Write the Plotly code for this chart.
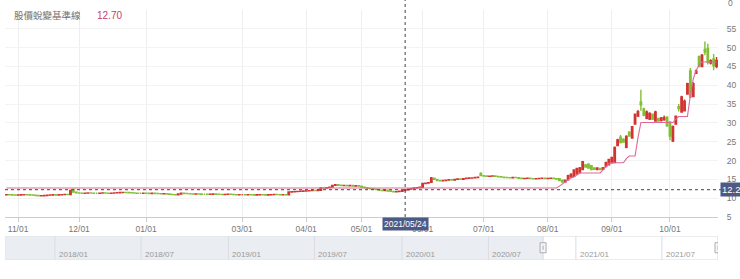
import pandas as pd
import plotly.graph_objects as go

# ---------------- data ----------------
holidays = ["2021-01-01", "2021-02-08", "2021-02-09", "2021-02-10", "2021-02-11", "2021-02-12",
            "2021-02-15", "2021-02-16", "2021-03-01", "2021-04-02", "2021-04-05", "2021-04-30",
            "2021-06-14", "2021-09-20", "2021-09-21", "2021-10-11"]
dates = [d.strftime("%Y-%m-%d") for d in pd.bdate_range("2020-10-27", "2021-10-26")
         if d.strftime("%Y-%m-%d") not in holidays]

opens = [
    # Oct 27 - Nov 30
    10.90, 10.95, 10.90, 10.85, 10.80, 10.85, 10.90, 10.95, 10.90, 10.85, 10.80, 10.70, 10.60, 10.65, 10.70, 10.80, 10.85, 10.90, 10.85, 10.90, 10.95, 11.00, 10.95, 12.30, 11.60,
    # Dec
    11.40, 11.35, 11.30, 11.35, 11.40, 11.35, 11.30, 11.30, 11.35, 11.40, 11.35, 11.30, 11.35, 11.40, 11.45, 11.50, 11.55, 11.50, 11.45, 11.40, 11.35, 11.30, 11.30,
    # Jan
    11.35, 11.30, 11.25, 11.30, 11.25, 11.20, 11.15, 11.20, 11.10, 11.00, 10.95, 10.90, 11.10, 11.30, 11.25, 11.20, 11.15, 11.10, 11.15, 11.10,
    # Feb
    11.05, 11.05, 11.00, 11.05, 11.10, 11.05, 11.00, 10.95, 11.00, 11.05, 11.00, 10.95, 10.90,
    # Mar
    10.95, 10.95, 10.90, 10.95, 10.90, 10.85, 10.90, 10.95, 10.90, 10.85, 10.90, 10.95, 11.00, 10.95, 10.90, 10.95, 10.90, 11.65, 11.70, 11.75, 11.80, 11.85,
    # Apr
    11.90, 11.95, 12.00, 12.05, 12.00, 12.10, 12.75, 12.70, 12.80, 12.95, 13.40, 13.60, 13.45, 13.35, 13.40, 13.30, 13.35, 13.25, 13.30,
    # May
    13.20, 12.95, 12.80, 12.60, 12.50, 12.40, 12.30, 12.15, 12.05, 12.10, 11.90, 11.80, 11.70, 11.75, 11.85, 12.00, 12.25, 12.40, 12.55, 12.70, 12.80,
    # Jun
    12.90, 13.90, 14.00, 14.20, 15.30, 15.00, 14.70, 14.60, 14.70, 14.80, 14.90, 14.85, 15.00, 15.10, 15.05, 15.20, 15.30, 15.35, 15.40, 15.50, 16.60,
    # Jul
    16.00, 15.90, 15.80, 15.85, 15.90, 15.80, 15.70, 15.60, 15.50, 15.45, 15.40, 15.50, 15.45, 15.30, 15.20, 15.25, 15.30, 15.20, 15.15, 15.20, 15.25, 15.30,
    # Aug
    15.20, 15.25, 15.30, 15.20, 15.20, 14.80, 14.30, 14.90, 15.60, 15.80, 16.40, 16.80, 17.60, 18.80, 19.00, 18.60, 18.00, 17.60, 17.90, 17.70, 18.40, 18.90,
    # Sep
    19.40, 19.50, 24.00, 26.20, 25.60, 23.50, 27.50, 26.00, 29.70, 31.80, 35.60, 33.70, 31.20, 31.00, 32.30, 30.50, 31.20, 30.60, 30.80, 31.50,
    # Oct
    30.20, 25.20, 29.70, 34.30, 32.90, 33.20, 37.70, 43.80, 37.00, 43.20, 47.60, 45.00, 49.50, 49.80, 45.90, 47.00, 45.00,
]
highs = [
    11.00, 11.00, 10.95, 10.90, 10.90, 10.95, 11.00, 11.00, 10.95, 10.90, 10.85, 10.75, 10.70, 10.75, 10.85, 10.90, 10.95, 10.95, 10.95, 11.00, 11.05, 11.05, 12.20, 12.40, 11.65,
    11.45, 11.40, 11.40, 11.45, 11.45, 11.40, 11.35, 11.40, 11.45, 11.45, 11.40, 11.40, 11.45, 11.50, 11.55, 11.60, 11.60, 11.55, 11.50, 11.45, 11.40, 11.35, 11.40,
    11.40, 11.35, 11.35, 11.35, 11.30, 11.25, 11.25, 11.25, 11.15, 11.05, 11.00, 11.15, 11.40, 11.35, 11.30, 11.25, 11.20, 11.20, 11.20, 11.15,
    11.10, 11.10, 11.10, 11.15, 11.15, 11.10, 11.05, 11.05, 11.10, 11.10, 11.05, 11.00, 11.00,
    11.00, 11.00, 11.00, 11.00, 10.95, 10.95, 11.00, 11.00, 10.95, 10.95, 11.00, 11.05, 11.05, 11.00, 11.00, 11.00, 11.75, 11.80, 11.85, 11.90, 11.95, 12.00,
    12.00, 12.05, 12.10, 12.10, 12.15, 12.85, 12.80, 12.85, 12.95, 13.50, 13.75, 13.65, 13.50, 13.45, 13.45, 13.40, 13.40, 13.35, 13.35,
    13.25, 13.00, 12.85, 12.65, 12.55, 12.45, 12.35, 12.20, 12.15, 12.15, 11.95, 11.85, 11.80, 11.90, 12.05, 12.30, 12.45, 12.60, 12.75, 12.85, 12.95,
    14.10, 14.10, 14.20, 15.60, 15.40, 15.05, 14.75, 14.80, 14.90, 14.95, 14.95, 15.05, 15.15, 15.15, 15.25, 15.35, 15.40, 15.45, 15.55, 15.70, 16.90,
    16.10, 15.95, 15.90, 15.95, 15.95, 15.85, 15.75, 15.65, 15.55, 15.50, 15.55, 15.55, 15.50, 15.35, 15.30, 15.35, 15.35, 15.25, 15.25, 15.30, 15.35, 15.35,
    15.30, 15.35, 15.35, 15.25, 15.25, 14.85, 14.90, 16.20, 16.60, 17.70, 18.10, 18.30, 19.90, 19.10, 19.30, 18.80, 18.20, 18.20, 18.00, 18.30, 19.70, 20.50,
    21.00, 23.70, 25.80, 26.80, 25.90, 26.70, 27.80, 29.20, 32.50, 33.40, 38.80, 34.00, 33.30, 32.80, 32.50, 33.20, 31.40, 31.60, 32.00, 31.80,
    30.50, 29.30, 32.00, 35.00, 37.20, 36.20, 40.70, 44.60, 40.80, 44.20, 47.90, 48.30, 51.60, 51.00, 46.90, 48.30, 47.50,
]
lows = [
    10.85, 10.85, 10.80, 10.75, 10.75, 10.80, 10.85, 10.85, 10.80, 10.75, 10.65, 10.55, 10.55, 10.60, 10.65, 10.75, 10.80, 10.80, 10.80, 10.85, 10.90, 10.90, 10.90, 11.50, 11.30,
    11.30, 11.25, 11.25, 11.30, 11.30, 11.25, 11.25, 11.25, 11.30, 11.30, 11.25, 11.25, 11.30, 11.35, 11.40, 11.45, 11.45, 11.40, 11.35, 11.30, 11.25, 11.25, 11.25,
    11.25, 11.20, 11.20, 11.20, 11.15, 11.10, 11.10, 11.05, 10.95, 10.90, 10.85, 10.85, 11.05, 11.20, 11.15, 11.10, 11.05, 11.05, 11.05, 11.00,
    11.00, 10.95, 10.95, 11.00, 11.00, 10.95, 10.90, 10.90, 10.95, 10.95, 10.90, 10.85, 10.85,
    10.90, 10.85, 10.85, 10.85, 10.80, 10.80, 10.85, 10.85, 10.80, 10.80, 10.85, 10.90, 10.90, 10.85, 10.85, 10.85, 10.85, 11.55, 11.60, 11.65, 11.70, 11.75,
    11.85, 11.90, 11.95, 11.95, 11.95, 12.05, 12.60, 12.65, 12.75, 12.90, 13.35, 13.40, 13.30, 13.30, 13.25, 13.25, 13.20, 13.20, 13.15,
    12.90, 12.75, 12.55, 12.45, 12.35, 12.25, 12.10, 12.00, 12.00, 11.85, 11.75, 11.60, 11.65, 11.70, 11.80, 11.95, 12.20, 12.35, 12.50, 12.65, 12.75,
    12.85, 13.80, 13.90, 14.10, 14.90, 14.60, 14.50, 14.55, 14.65, 14.75, 14.80, 14.80, 14.95, 15.00, 15.00, 15.15, 15.25, 15.30, 15.35, 15.45, 15.90,
    15.85, 15.75, 15.75, 15.80, 15.75, 15.65, 15.55, 15.45, 15.40, 15.35, 15.35, 15.40, 15.25, 15.15, 15.15, 15.20, 15.15, 15.10, 15.10, 15.15, 15.20, 15.15,
    15.15, 15.20, 15.15, 15.05, 14.60, 14.10, 14.20, 14.80, 15.50, 15.70, 16.30, 16.60, 17.40, 18.10, 17.80, 17.40, 17.50, 17.50, 17.40, 17.50, 18.30, 18.70,
    19.20, 19.30, 23.80, 24.50, 24.70, 23.30, 26.30, 25.80, 29.50, 31.60, 33.20, 31.80, 31.00, 30.80, 30.80, 30.30, 30.30, 30.40, 30.60, 29.00,
    25.40, 24.90, 29.50, 33.00, 32.70, 33.00, 37.50, 36.60, 36.80, 43.00, 44.80, 44.80, 48.00, 45.50, 45.50, 44.00, 44.50,
]
closes = [
    10.95, 10.90, 10.85, 10.80, 10.85, 10.90, 10.95, 10.90, 10.85, 10.80, 10.70, 10.60, 10.65, 10.70, 10.80, 10.85, 10.90, 10.85, 10.90, 10.95, 11.00, 10.95, 12.05, 11.60, 11.40,
    11.35, 11.30, 11.35, 11.40, 11.35, 11.30, 11.30, 11.35, 11.40, 11.35, 11.30, 11.35, 11.40, 11.45, 11.50, 11.55, 11.50, 11.45, 11.40, 11.35, 11.30, 11.30, 11.35,
    11.30, 11.25, 11.30, 11.25, 11.20, 11.15, 11.20, 11.10, 11.00, 10.95, 10.90, 11.10, 11.30, 11.25, 11.20, 11.15, 11.10, 11.15, 11.10, 11.05,
    11.05, 11.00, 11.05, 11.10, 11.05, 11.00, 10.95, 11.00, 11.05, 11.00, 10.95, 10.90, 10.95,
    10.95, 10.90, 10.95, 10.90, 10.85, 10.90, 10.95, 10.90, 10.85, 10.90, 10.95, 11.00, 10.95, 10.90, 10.95, 10.90, 11.65, 11.70, 11.75, 11.80, 11.85, 11.90,
    11.95, 12.00, 12.05, 12.00, 12.10, 12.75, 12.70, 12.80, 12.90, 13.40, 13.60, 13.45, 13.35, 13.40, 13.30, 13.35, 13.25, 13.30, 13.20,
    12.95, 12.80, 12.60, 12.50, 12.40, 12.30, 12.15, 12.05, 12.10, 11.90, 11.80, 11.70, 11.75, 11.85, 12.00, 12.25, 12.40, 12.55, 12.70, 12.80, 12.90,
    13.90, 14.00, 14.10, 15.40, 15.00, 14.70, 14.60, 14.70, 14.80, 14.90, 14.85, 15.00, 15.10, 15.05, 15.20, 15.30, 15.35, 15.40, 15.50, 15.60, 16.00,
    15.90, 15.80, 15.85, 15.90, 15.80, 15.70, 15.60, 15.50, 15.45, 15.40, 15.50, 15.45, 15.30, 15.20, 15.25, 15.30, 15.20, 15.15, 15.20, 15.25, 15.30, 15.20,
    15.25, 15.30, 15.20, 15.10, 14.70, 14.30, 14.80, 16.00, 16.40, 17.50, 17.90, 18.00, 19.70, 18.30, 18.00, 17.60, 17.70, 18.00, 17.60, 18.10, 19.50, 20.30,
    20.80, 23.50, 25.50, 24.80, 24.90, 26.40, 26.50, 29.00, 32.30, 33.00, 34.80, 32.00, 32.90, 32.50, 31.00, 32.90, 30.50, 31.30, 31.40, 29.20,
    26.50, 29.00, 31.80, 33.80, 36.90, 35.80, 40.40, 36.90, 40.40, 43.80, 45.00, 48.00, 48.80, 46.20, 46.50, 45.20, 46.60,
]
baseline = [12.70] * 190 + [
    13.2, 13.8, 14.2, 15.0, 15.4, 15.6, 16.2, 16.7,
    16.7, 16.7, 16.7, 16.7, 16.7, 16.7, 16.7,
    17.5, 18.5, 19.2,
    19.4, 19.4, 19.4, 19.4, 19.4,
    20.5, 21.2, 21.2, 21.2,
    26.0, 30.1,
    30.1, 30.1, 30.1, 30.1, 30.1, 30.1, 30.1, 30.1, 30.1, 30.1, 30.1,
    31.0, 31.7, 31.7, 31.7, 31.7,
    37.3, 41.7, 44.0, 45.3,
    46.2, 46.2, 46.2, 46.2, 46.2, 46.2,
]
assert len(dates) == len(opens) == len(highs) == len(lows) == len(closes) == len(baseline), (
    len(dates), len(opens), len(highs), len(lows), len(closes), len(baseline))

title_text = "股價蛻變基準線"
baseline_value = "12.70"
cross_date = "2021-05-24"
cross_date_label = "2021/05/24"
cross_price = 12.25

tick_dates = ["2020-11-02", "2020-12-01", "2021-01-04", "2021-03-02", "2021-04-01", "2021-05-03",
              "2021-06-01", "2021-07-01", "2021-08-02", "2021-09-01", "2021-10-01"]
tick_labels = ["11/01", "12/01", "01/01", "03/01", "04/01", "05/01", "06/01", "07/01", "08/01", "09/01", "10/01"]
y_ticks = [5, 10, 15, 20, 25, 30, 35, 40, 45, 50, 55]

slider_range = ["2017-09-18", "2021-10-27"]
slider_window = ["2020-10-24", "2021-10-27"]
slider_dates = ["2018-01-01", "2018-07-01", "2019-01-01", "2019-07-01", "2020-01-01", "2020-07-01",
                "2021-01-01", "2021-07-01"]
slider_labels = ["2018/01", "2018/07", "2019/01", "2019/07", "2020/01", "2020/07", "2021/01", "2021/07"]

# ---------------- styles ----------------
RED = "#d23431"
GREEN = "#82bf34"
PINK = "#dc6a95"
LABEL_BG = "#4d5a85"
AX = "#777777"
FONT = "Liberation Sans, Arial, sans-serif"
CJK = "Noto Sans CJK TC, sans-serif"

MAIN_BOTTOM = 43 / 250
SLIDER_TOP = 24 / 250

fig = go.Figure()
fig.add_trace(go.Candlestick(
    x=dates, open=opens, high=highs, low=lows, close=closes,
    increasing=dict(line=dict(color=RED, width=1.4), fillcolor=RED),
    decreasing=dict(line=dict(color=GREEN, width=1.4), fillcolor=GREEN),
    whiskerwidth=0, hoverinfo="skip", showlegend=False, xaxis="x", yaxis="y",
))
fig.add_trace(go.Scatter(
    x=dates, y=baseline, mode="lines", line=dict(color=PINK, width=1.1),
    hoverinfo="skip", showlegend=False, xaxis="x", yaxis="y",
))
fig.add_trace(go.Scatter(
    x=slider_range, y=[0, 0], mode="none", hoverinfo="skip", showlegend=False,
    xaxis="x2", yaxis="y2",
))

shapes = []
# slider background and window
shapes.append(dict(type="rect", xref="x2", yref="y2", x0=slider_range[0], x1=slider_range[1], y0=0, y1=1,
                   fillcolor="#eaedf1", line=dict(color="#dfe3e8", width=1), layer="below"))
shapes.append(dict(type="rect", xref="x2", yref="y2", x0=slider_window[0], x1=slider_window[1], y0=0, y1=1,
                   fillcolor="#ffffff", line=dict(color="#d6dae0", width=1), layer="below"))
for d in slider_dates:
    shapes.append(dict(type="line", xref="x2", yref="y2", x0=d, x1=d, y0=0, y1=1,
                       line=dict(color="#d9dde3", width=1), layer="below"))
for d in slider_window:
    shapes.append(dict(type="rect", xref="x2", yref="y2", xsizemode="pixel", xanchor=d,
                       x0=-3, x1=3, y0=0.3, y1=0.72, fillcolor="#f4f5f7",
                       line=dict(color="#a9adb3", width=1)))
    shapes.append(dict(type="line", xref="x2", yref="y2", xsizemode="pixel", xanchor=d,
                       x0=0, x1=0, y0=0.42, y1=0.6, line=dict(color="#a9adb3", width=1)))
# crosshair
shapes.append(dict(type="line", xref="x", yref="paper", x0=cross_date, x1=cross_date,
                   y0=MAIN_BOTTOM, y1=1.04, line=dict(color="#444", width=1, dash="3px,3px")))
shapes.append(dict(type="line", xref="paper", yref="y", x0=0, x1=1.005, y0=cross_price, y1=cross_price,
                   line=dict(color="#444", width=1, dash="3px,3px")))

annotations = []
for d, t in zip(slider_dates, slider_labels):
    annotations.append(dict(x=d, y=0.22, xref="x2", yref="y2", text=t, showarrow=False,
                            xanchor="left", yanchor="middle", xshift=2,
                            font=dict(family=FONT, size=8, color="#9a9a9a")))
annotations.append(dict(x=cross_date, y=MAIN_BOTTOM, xref="x", yref="paper", text=cross_date_label,
                        showarrow=False, yanchor="top", xanchor="center", bgcolor=LABEL_BG,
                        borderpad=1, font=dict(family=FONT, size=8.5, color="#ffffff")))
annotations.append(dict(x=1, y=cross_price, xref="paper", yref="y", text="12.25", showarrow=False,
                        xanchor="left", yanchor="middle", xshift=2, bgcolor=LABEL_BG, borderpad=1,
                        font=dict(family=FONT, size=9.5, color="#ffffff")))
annotations.append(dict(x=7 / 713, y=(260 - 15) / 250, xref="paper", yref="paper", text=title_text,
                        showarrow=False, xanchor="left", yanchor="middle",
                        font=dict(family=CJK, size=9.5, color="#707070")))
annotations.append(dict(x=90 / 713, y=(260 - 15) / 250, xref="paper", yref="paper", text=baseline_value,
                        showarrow=False, xanchor="left", yanchor="middle",
                        font=dict(family=FONT, size=10, color="#c63c72")))
annotations.append(dict(x=1, y=(260 - 3) / 250, xref="paper", yref="paper", text="0",
                        showarrow=False, xanchor="left", yanchor="middle", xshift=8,
                        font=dict(family=FONT, size=8.5, color=AX)))

fig.update_layout(
    width=740, height=279,
    margin=dict(l=5, r=22, t=10, b=19),
    paper_bgcolor="white", plot_bgcolor="white",
    showlegend=False, hovermode=False,
    xaxis=dict(type="category", domain=[0, 1], anchor="y", range=[-0.5, len(dates) - 0.5],
               tickmode="array", tickvals=tick_dates, ticktext=tick_labels,
               showgrid=True, gridcolor="#eeeeee", gridwidth=1,
               showline=True, linecolor="#cccccc", linewidth=1,
               ticks="outside", ticklen=4, tickcolor="#cccccc",
               tickfont=dict(family=FONT, size=8.5, color=AX),
               rangeslider=dict(visible=False), fixedrange=True),
    yaxis=dict(domain=[MAIN_BOTTOM, 1], anchor="x", side="right", range=[5, 60],
               tickmode="array", tickvals=y_ticks, showgrid=True, gridcolor="#f3f3f3",
               zeroline=False, showline=False, ticks="outside", ticklen=6,
               tickcolor="rgba(0,0,0,0)", tickfont=dict(family=FONT, size=8.5, color=AX),
               fixedrange=True),
    xaxis2=dict(type="date", domain=[0, 1], anchor="y2", range=slider_range, visible=False,
                fixedrange=True),
    yaxis2=dict(domain=[0, SLIDER_TOP], anchor="x2", range=[0, 1], visible=False, fixedrange=True),
    shapes=shapes, annotations=annotations,
)

fig.write_html("out.html", config={"displayModeBar": False, "staticPlot": True})
